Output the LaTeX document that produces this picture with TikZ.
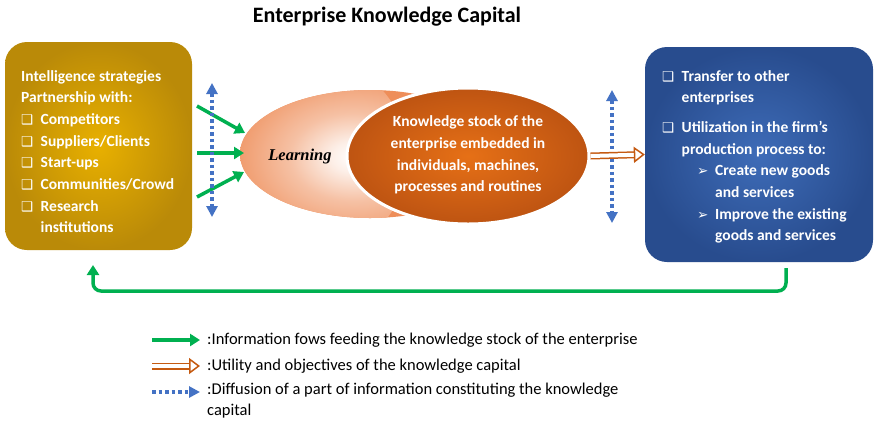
\documentclass[tikz,border=0pt]{standalone}
\usepackage{fontspec}
\setmainfont{Carlito}
\newfontfamily\symfont{DejaVu Sans}
\newfontfamily\learnfont{Liberation Serif}
\usetikzlibrary{shapes.geometric,arrows.meta,calc}

\definecolor{goldin}{RGB}{232,176,0}
\definecolor{goldout}{RGB}{186,138,8}
\definecolor{bluein}{RGB}{62,108,184}
\definecolor{blueout}{RGB}{40,76,142}
\definecolor{peach}{RGB}{238,142,90}
\definecolor{rustin}{RGB}{230,112,22}
\definecolor{rustout}{RGB}{190,84,18}
\definecolor{infogreen}{RGB}{0,176,80}
\definecolor{diffblue}{RGB}{68,114,196}
\definecolor{utilorange}{RGB}{197,90,17}

\pgfdeclareradialshading{learnglow}{\pgfpoint{0bp}{0bp}}{color(0bp)=(white);
  color(4bp)=(white!85!peach); color(11bp)=(white!45!peach); color(23bp)=(peach); color(50bp)=(peach)}

\newcommand{\cbx}{\makebox[19.5pt][l]{\symfont\fontsize{13.5}{13}\selectfont ❑}}
\newcommand{\rarr}{\makebox[18pt][l]{\symfont\fontsize{13.5}{13}\selectfont ➢}}

\tikzset{
  info/.style={draw=infogreen,line width=3.5pt,-{Triangle[length=10pt,width=12pt]}},
  util/.style={draw=utilorange,line width=1.5pt,double=white,double distance=4pt,
    -{Triangle[open,length=11pt,width=16pt]}},
  diffuse/.style={draw=diffblue,line width=3.5pt,dash pattern=on 3.5pt off 3pt,
    -{Triangle[length=11pt,width=11pt]}},
  diffuse2/.style={diffuse,{Triangle[length=11pt,width=11pt]}-{Triangle[length=11pt,width=11pt]}}
}

\begin{document}
\begin{tikzpicture}[x=1pt,y=-1pt]
  \useasboundingbox[fill=white] (0,0) rectangle (875,424);

  \node[font=\bfseries\fontsize{22}{24}\selectfont] (title) at (387,17) {Enterprise Knowledge Capital};

  \begin{scope}[every node/.style={rounded corners=22pt,draw=none}]
    \node[minimum width=187,minimum height=208,inner color=goldin,outer color=goldout] (left) at (98.5,146) {};
    \node[minimum width=228,minimum height=215,inner color=bluein,outer color=blueout] (right) at (759,154.5) {};
  \end{scope}

  \node[ellipse,minimum width=260,minimum height=128,fill=peach,
    path picture={\shade[shading=learnglow]
      ($(path picture bounding box.center)+(-62,3)$) circle (100pt);}] (learn) at (370,154) {};
  \node[ellipse,minimum width=242,minimum height=136,draw=white,line width=3pt,
    inner color=rustin,outer color=rustout] (stock) at (468,156) {};

  \begin{scope}[every node/.style={text=white,font=\bfseries\fontsize{15.5}{21.7}\selectfont,inner sep=0pt}]
    \node[anchor=north west,align=left] (lefttext) at (21,70) {Intelligence strategies\\
      Partnership with:\\
      \cbx Competitors\\
      \cbx Suppliers/Clients\\
      \cbx Start-ups\\
      \cbx Communities/Crowd\\
      \cbx Research\\
      \hspace*{19.5pt}institutions};
    \node[align=center] (stocktext) at (468,155) {Knowledge stock of the\\
      enterprise embedded in\\
      individuals, machines,\\
      processes and routines};
    \node[anchor=north west,align=left] (righttext) at (662,70) {\cbx Transfer to other\\
      \hspace*{19.5pt}enterprises\\[8pt]
      \cbx Utilization in the firm’s\\
      \hspace*{19.5pt}production process to:\\
      \hspace*{35pt}\rarr Create new goods\\
      \hspace*{53pt}and services\\
      \hspace*{35pt}\rarr Improve the existing\\
      \hspace*{53pt}goods and services};
  \end{scope}

  \node[font=\learnfont\bfseries\itshape\fontsize{16.5}{18}\selectfont] (learntext) at (300,157) {Learning};

  \coordinate (g1a) at (197,106);
  \coordinate (g1b) at (245,133);
  \coordinate (g2a) at (197,153);
  \coordinate (g2b) at (244,153);
  \coordinate (g3a) at (197,197);
  \coordinate (g3b) at (244,172);
  \coordinate (d1a) at (212,83);
  \coordinate (d1b) at (212,217);
  \coordinate (d2a) at (612,90);
  \coordinate (d2b) at (612,223);
  \coordinate (fbs) at (786,268);
  \coordinate (fbe) at (93,265);

  \path (g1a) edge[info] (g1b);
  \path (g2a) edge[info] (g2b);
  \path (g3a) edge[info] (g3b);
  \path (d1a) edge[diffuse2] (d1b);
  \path (d2a) edge[diffuse2] (d2b);
  \path (stock.east) edge[util] (right.west);
  \draw[info,rounded corners=8pt] (fbs) -- ++(0,23) -| (fbe);

  \coordinate (k1a) at (152,340);
  \coordinate (k1b) at (200,340);
  \coordinate (k2a) at (152,366);
  \coordinate (k2b) at (200,366);
  \coordinate (k3a) at (152,392);
  \coordinate (k3b) at (200,392);
  \path (k1a) edge[info] (k1b);
  \path (k2a) edge[util] (k2b);
  \path (k3a) edge[diffuse] (k3b);

  \begin{scope}[every node/.style={font=\fontsize{16.5}{21}\selectfont,inner sep=0pt,anchor=west}]
    \node (key1) at (207,340) {:Information fows feeding the knowledge stock of the enterprise};
    \node (key2) at (207,366) {:Utility and objectives of the knowledge capital};
    \node[anchor=north west,align=left] (key3) at (207,383) {:Diffusion of a part of information constituting the knowledge\\capital};
  \end{scope}

\end{tikzpicture}
\end{document}
